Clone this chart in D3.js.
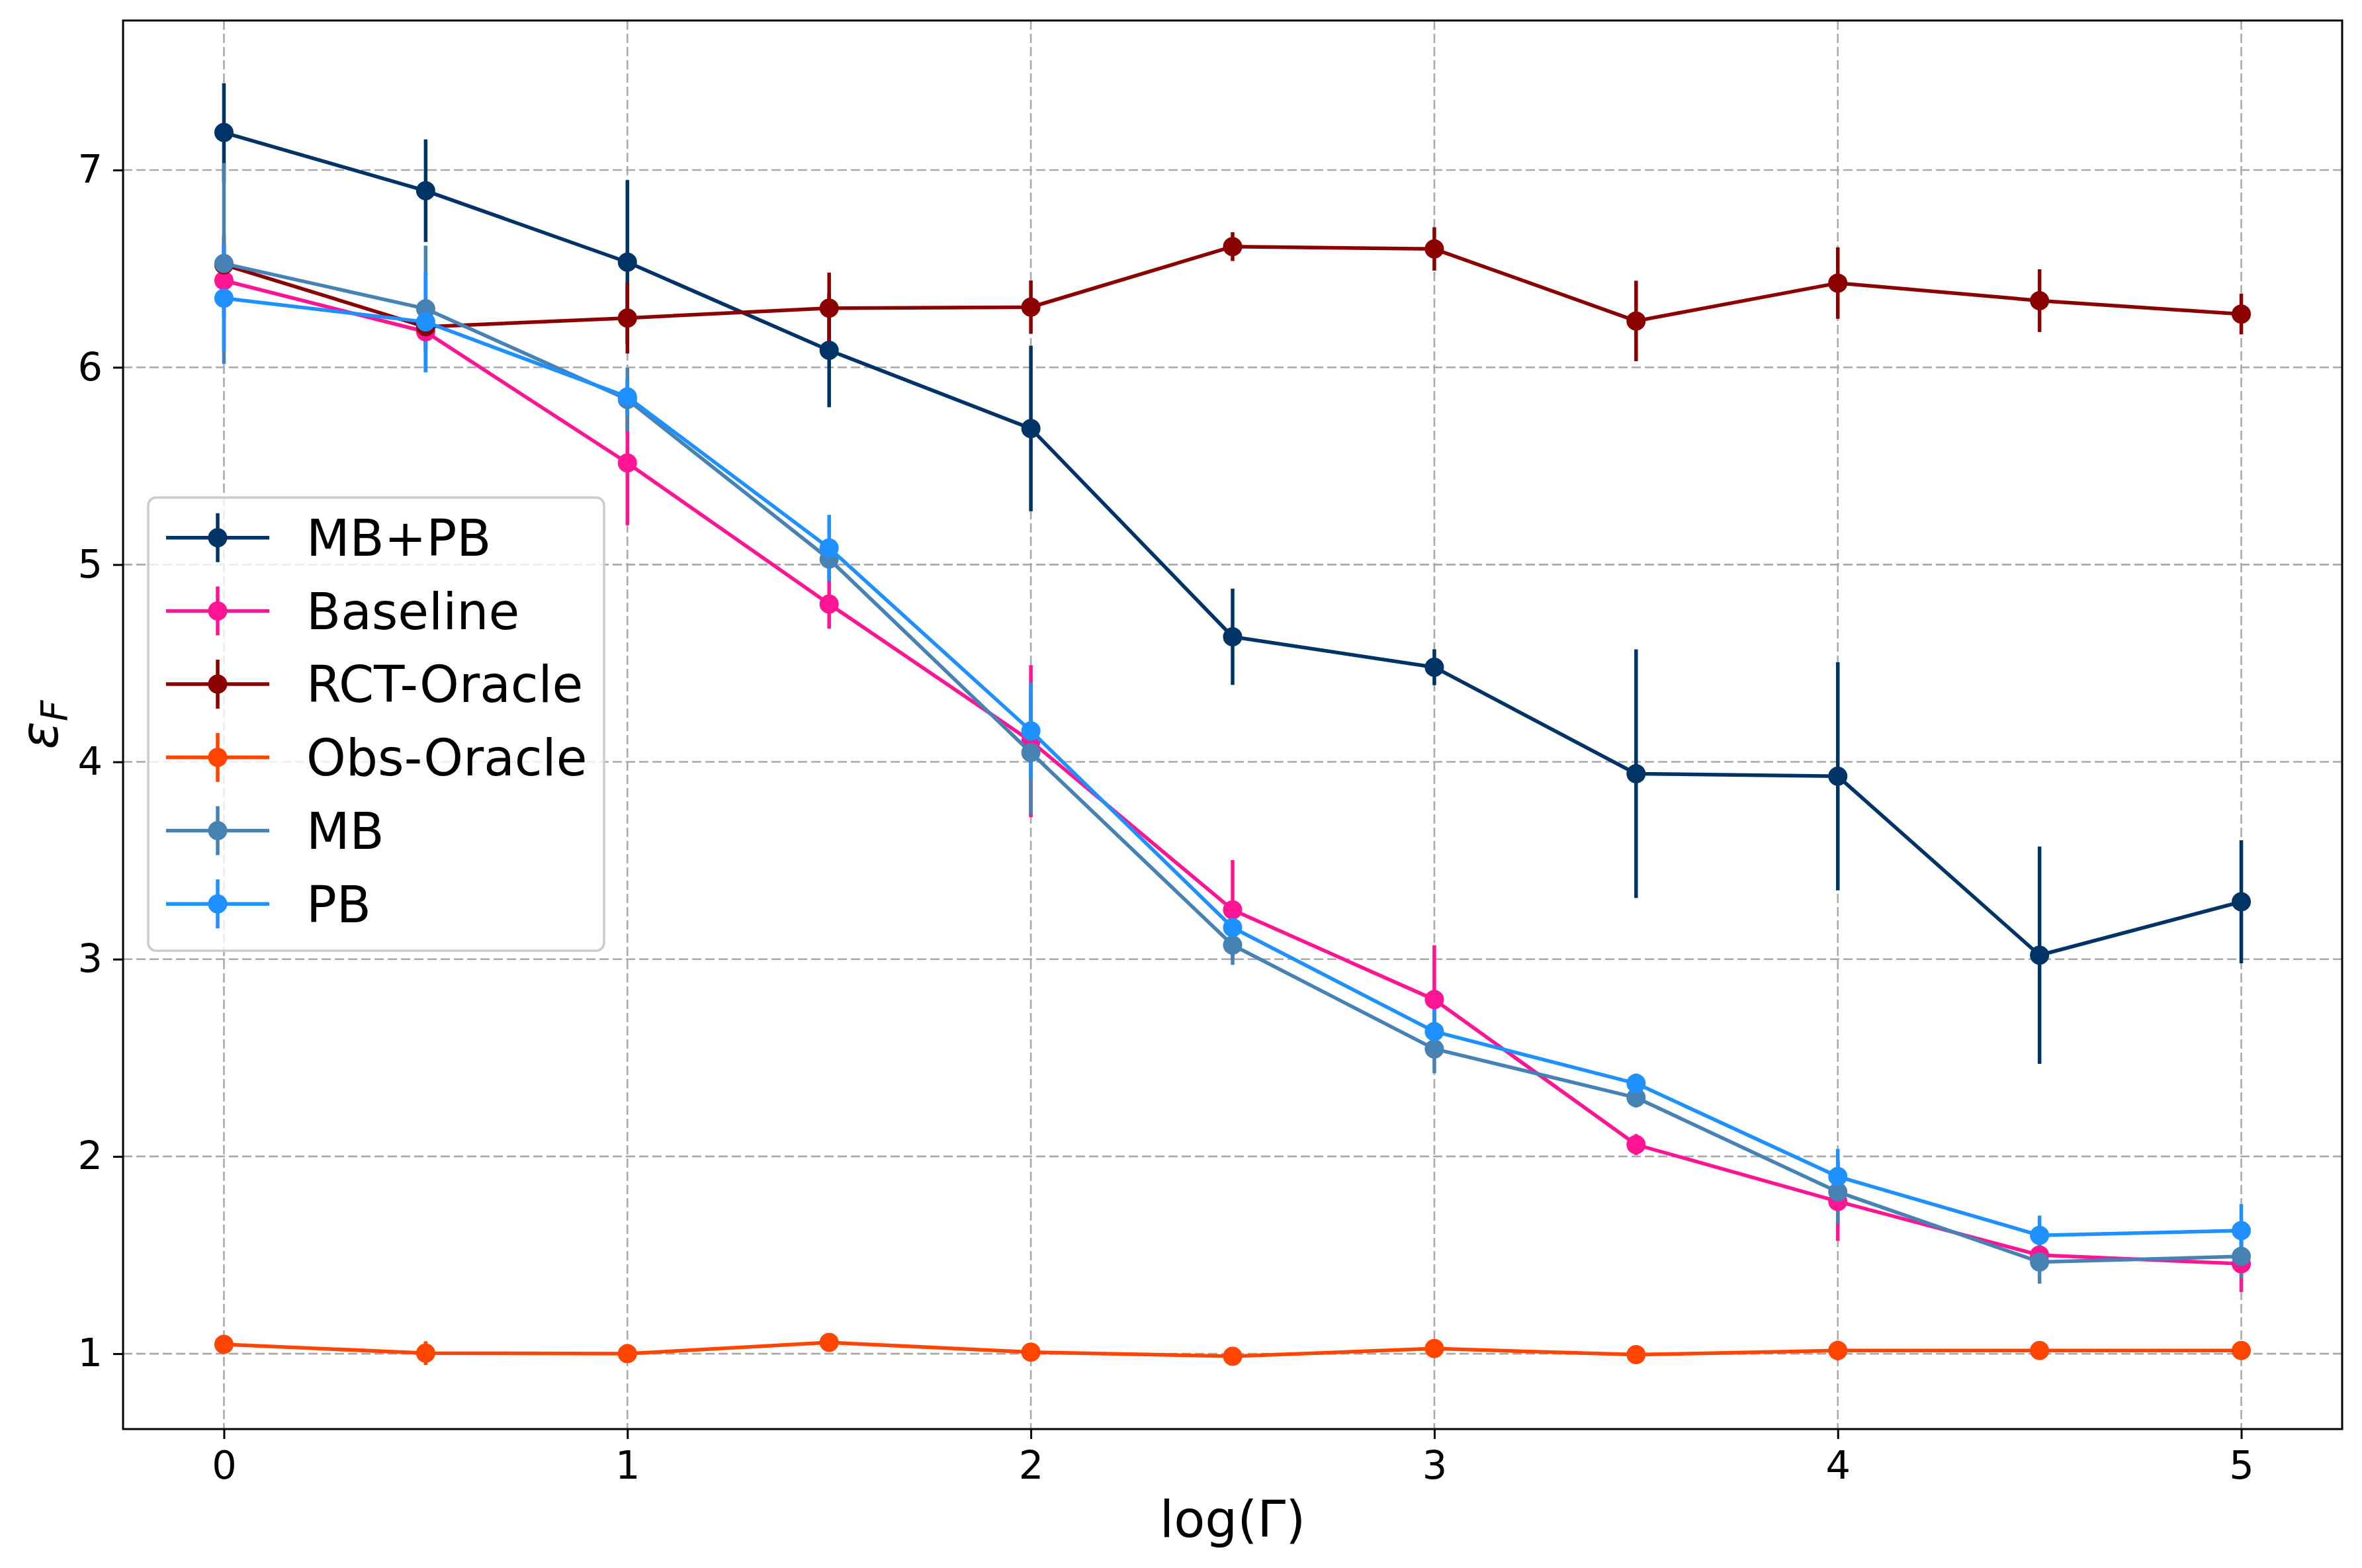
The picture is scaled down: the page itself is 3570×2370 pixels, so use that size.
<!DOCTYPE html>
<html>
<head>
<meta charset="utf-8">
<script src="https://cdn.jsdelivr.net/npm/d3@7"></script>
<style>
  body { margin: 0; background: #fff; }
  text { font-family: "DejaVu Sans", sans-serif; }
</style>
</head>
<body>
<div id="chart-container"></div>
<script>
const xVals = [0, 0.5, 1, 1.5, 2, 2.5, 3, 3.5, 4, 4.5, 5];

const mbpbMean = [7.19, 6.895, 6.533, 6.086, 5.69, 4.634, 4.48, 3.94, 3.927, 3.02, 3.291];
const mbpbErr = [0.25, 0.26, 0.416, 0.288, 0.42, 0.244, 0.091, 0.63, 0.578, 0.551, 0.312];

const baselineMean = [6.44, 6.18, 5.515, 4.80, 4.105, 3.25, 2.795, 2.06, 1.772, 1.50, 1.456];
const baselineErr = [0.19, 0.1, 0.315, 0.125, 0.386, 0.252, 0.275, 0.053, 0.2, 0.05, 0.143];

const rctMean = [6.52, 6.205, 6.25, 6.30, 6.305, 6.612, 6.60, 6.235, 6.427, 6.338, 6.27];
const rctErr = [0.15, 0.1, 0.18, 0.18, 0.135, 0.073, 0.11, 0.204, 0.181, 0.159, 0.103];

const obsMean = [1.047, 1.003, 1.0, 1.057, 1.008, 0.987, 1.026, 0.995, 1.016, 1.016, 1.016];
const obsErr = [0.02, 0.06, 0.02, 0.02, 0.02, 0.02, 0.02, 0.02, 0.05, 0.02, 0.02];

const mbMean = [6.526, 6.297, 5.837, 5.028, 4.047, 3.071, 2.545, 2.298, 1.82, 1.465, 1.493];
const mbErr = [0.509, 0.32, 0.16, 0.1, 0.314, 0.10, 0.123, 0.05, 0.16, 0.11, 0.11];

const pbMean = [6.35, 6.23, 5.85, 5.084, 4.157, 3.16, 2.633, 2.37, 1.898, 1.60, 1.624];
const pbErr = [0.27, 0.255, 0.09, 0.168, 0.243, 0.08, 0.12, 0.05, 0.14, 0.10, 0.134];

const seriesNames = ["MB+PB", "Baseline", "RCT-Oracle", "Obs-Oracle", "MB", "PB"];
const seriesColors = ["#003366", "#ff1493", "#8b0000", "#ff4500", "#4682b4", "#1e90ff"];
const seriesMeans = [mbpbMean, baselineMean, rctMean, obsMean, mbMean, pbMean];
const seriesErrs = [mbpbErr, baselineErr, rctErr, obsErr, mbErr, pbErr];

const xTicks = [0, 1, 2, 3, 4, 5];
const yTicks = [1, 2, 3, 4, 5, 6, 7];

const W = 3570, H = 2370;
const margin = {top: 31, right: 30, bottom: 210, left: 186};
const width = W - margin.left - margin.right;
const height = H - margin.top - margin.bottom;

const x = d3.scaleLinear()
    .domain([-0.25, 5.25])
    .range([0, width]);

const y = d3.scaleLinear()
    .domain([0.618, 7.758])
    .range([height, 0]);

const svgRoot = d3.select("#chart-container")
    .append("svg")
    .attr("width", W)
    .attr("height", H);

svgRoot.append("rect").attr("width", W).attr("height", H).attr("fill", "#fff");

const svg = svgRoot.append("g")
    .attr("transform", `translate(${margin.left},${margin.top})`);

// grid
svg.append("g")
    .selectAll("line.vg")
    .data(xTicks)
    .join("line")
    .attr("x1", d => x(d)).attr("x2", d => x(d))
    .attr("y1", 0).attr("y2", height)
    .attr("stroke", "#aaaaaa")
    .attr("stroke-width", 2.6)
    .attr("stroke-dasharray", "14,6");

svg.append("g")
    .selectAll("line.hg")
    .data(yTicks)
    .join("line")
    .attr("x1", 0).attr("x2", width)
    .attr("y1", d => y(d)).attr("y2", d => y(d))
    .attr("stroke", "#aaaaaa")
    .attr("stroke-width", 2.6)
    .attr("stroke-dasharray", "14,6");

const series = seriesNames.map((name, i) => ({
  name: name,
  color: seriesColors[i],
  points: xVals.map((xv, j) => ({x: xv, y: seriesMeans[i][j], e: seriesErrs[i][j]}))
}));

// error bars first (matplotlib draws bars under the data lines)
series.forEach(s => {
  svg.append("g")
    .selectAll("line")
    .data(s.points)
    .join("line")
    .attr("x1", d => x(d.x)).attr("x2", d => x(d.x))
    .attr("y1", d => y(d.y - d.e)).attr("y2", d => y(d.y + d.e))
    .attr("stroke", s.color)
    .attr("stroke-width", 5.5);
});

const line = d3.line()
    .x(d => x(d.x))
    .y(d => y(d.y));

series.forEach(s => {
  svg.append("path")
    .datum(s.points)
    .attr("fill", "none")
    .attr("stroke", s.color)
    .attr("stroke-width", 5.5)
    .attr("stroke-linejoin", "round")
    .attr("d", line);

  svg.append("g")
    .selectAll("circle")
    .data(s.points)
    .join("circle")
    .attr("cx", d => x(d.x))
    .attr("cy", d => y(d.y))
    .attr("r", 14.5)
    .attr("fill", s.color);
});

// axes
const xAxis = svg.append("g")
    .attr("transform", `translate(0,${height})`)
    .call(d3.axisBottom(x)
        .tickValues(xTicks)
        .tickFormat(d3.format("d"))
        .tickSize(15)
        .tickPadding(18));

const yAxis = svg.append("g")
    .call(d3.axisLeft(y)
        .tickValues(yTicks)
        .tickFormat(d3.format("d"))
        .tickSize(15)
        .tickPadding(16));

[xAxis, yAxis].forEach(a => {
  a.select(".domain").remove();
  a.selectAll(".tick line").attr("stroke", "#000").attr("stroke-width", 3);
  a.selectAll(".tick text")
    .attr("fill", "#000")
    .style("font-size", "59px")
    .style("font-family", "DejaVu Sans");
});

svg.append("rect")
    .attr("width", width)
    .attr("height", height)
    .attr("fill", "none")
    .attr("stroke", "#000")
    .attr("stroke-width", 3);

// axis labels
svg.append("text")
    .attr("x", width / 2)
    .attr("y", 2323 - margin.top)
    .attr("text-anchor", "middle")
    .style("font-size", "77px")
    .text("log(Γ)");

const yl = svgRoot.append("text")
    .attr("transform", `translate(87,${margin.top + height / 2}) rotate(-90)`)
    .attr("text-anchor", "middle")
    .style("font-size", "78px")
    .style("font-style", "italic");
yl.append("tspan").text("ε");
yl.append("tspan").attr("dy", "14").style("font-size", "55px").text("F");

// legend
const legend = svgRoot.append("g");
legend.append("rect")
    .attr("x", 224).attr("y", 752)
    .attr("width", 689).attr("height", 685)
    .attr("rx", 12)
    .attr("fill", "#fff")
    .attr("fill-opacity", 0.8)
    .attr("stroke", "#cccccc")
    .attr("stroke-width", 3.5);

series.forEach((s, i) => {
  const cy = 812.7 + i * 110.7;
  const g = legend.append("g");
  g.append("line")
    .attr("x1", 251).attr("x2", 407)
    .attr("y1", cy).attr("y2", cy)
    .attr("stroke", s.color).attr("stroke-width", 5.5);
  g.append("line")
    .attr("x1", 329).attr("x2", 329)
    .attr("y1", cy - 37).attr("y2", cy + 37)
    .attr("stroke", s.color).attr("stroke-width", 5.5);
  g.append("circle")
    .attr("cx", 329).attr("cy", cy).attr("r", 14.5)
    .attr("fill", s.color);
  g.append("text")
    .attr("x", 463).attr("y", cy)
    .attr("dy", "0.36em")
    .style("font-size", "76px")
    .text(s.name);
});
</script>
</body>
</html>
